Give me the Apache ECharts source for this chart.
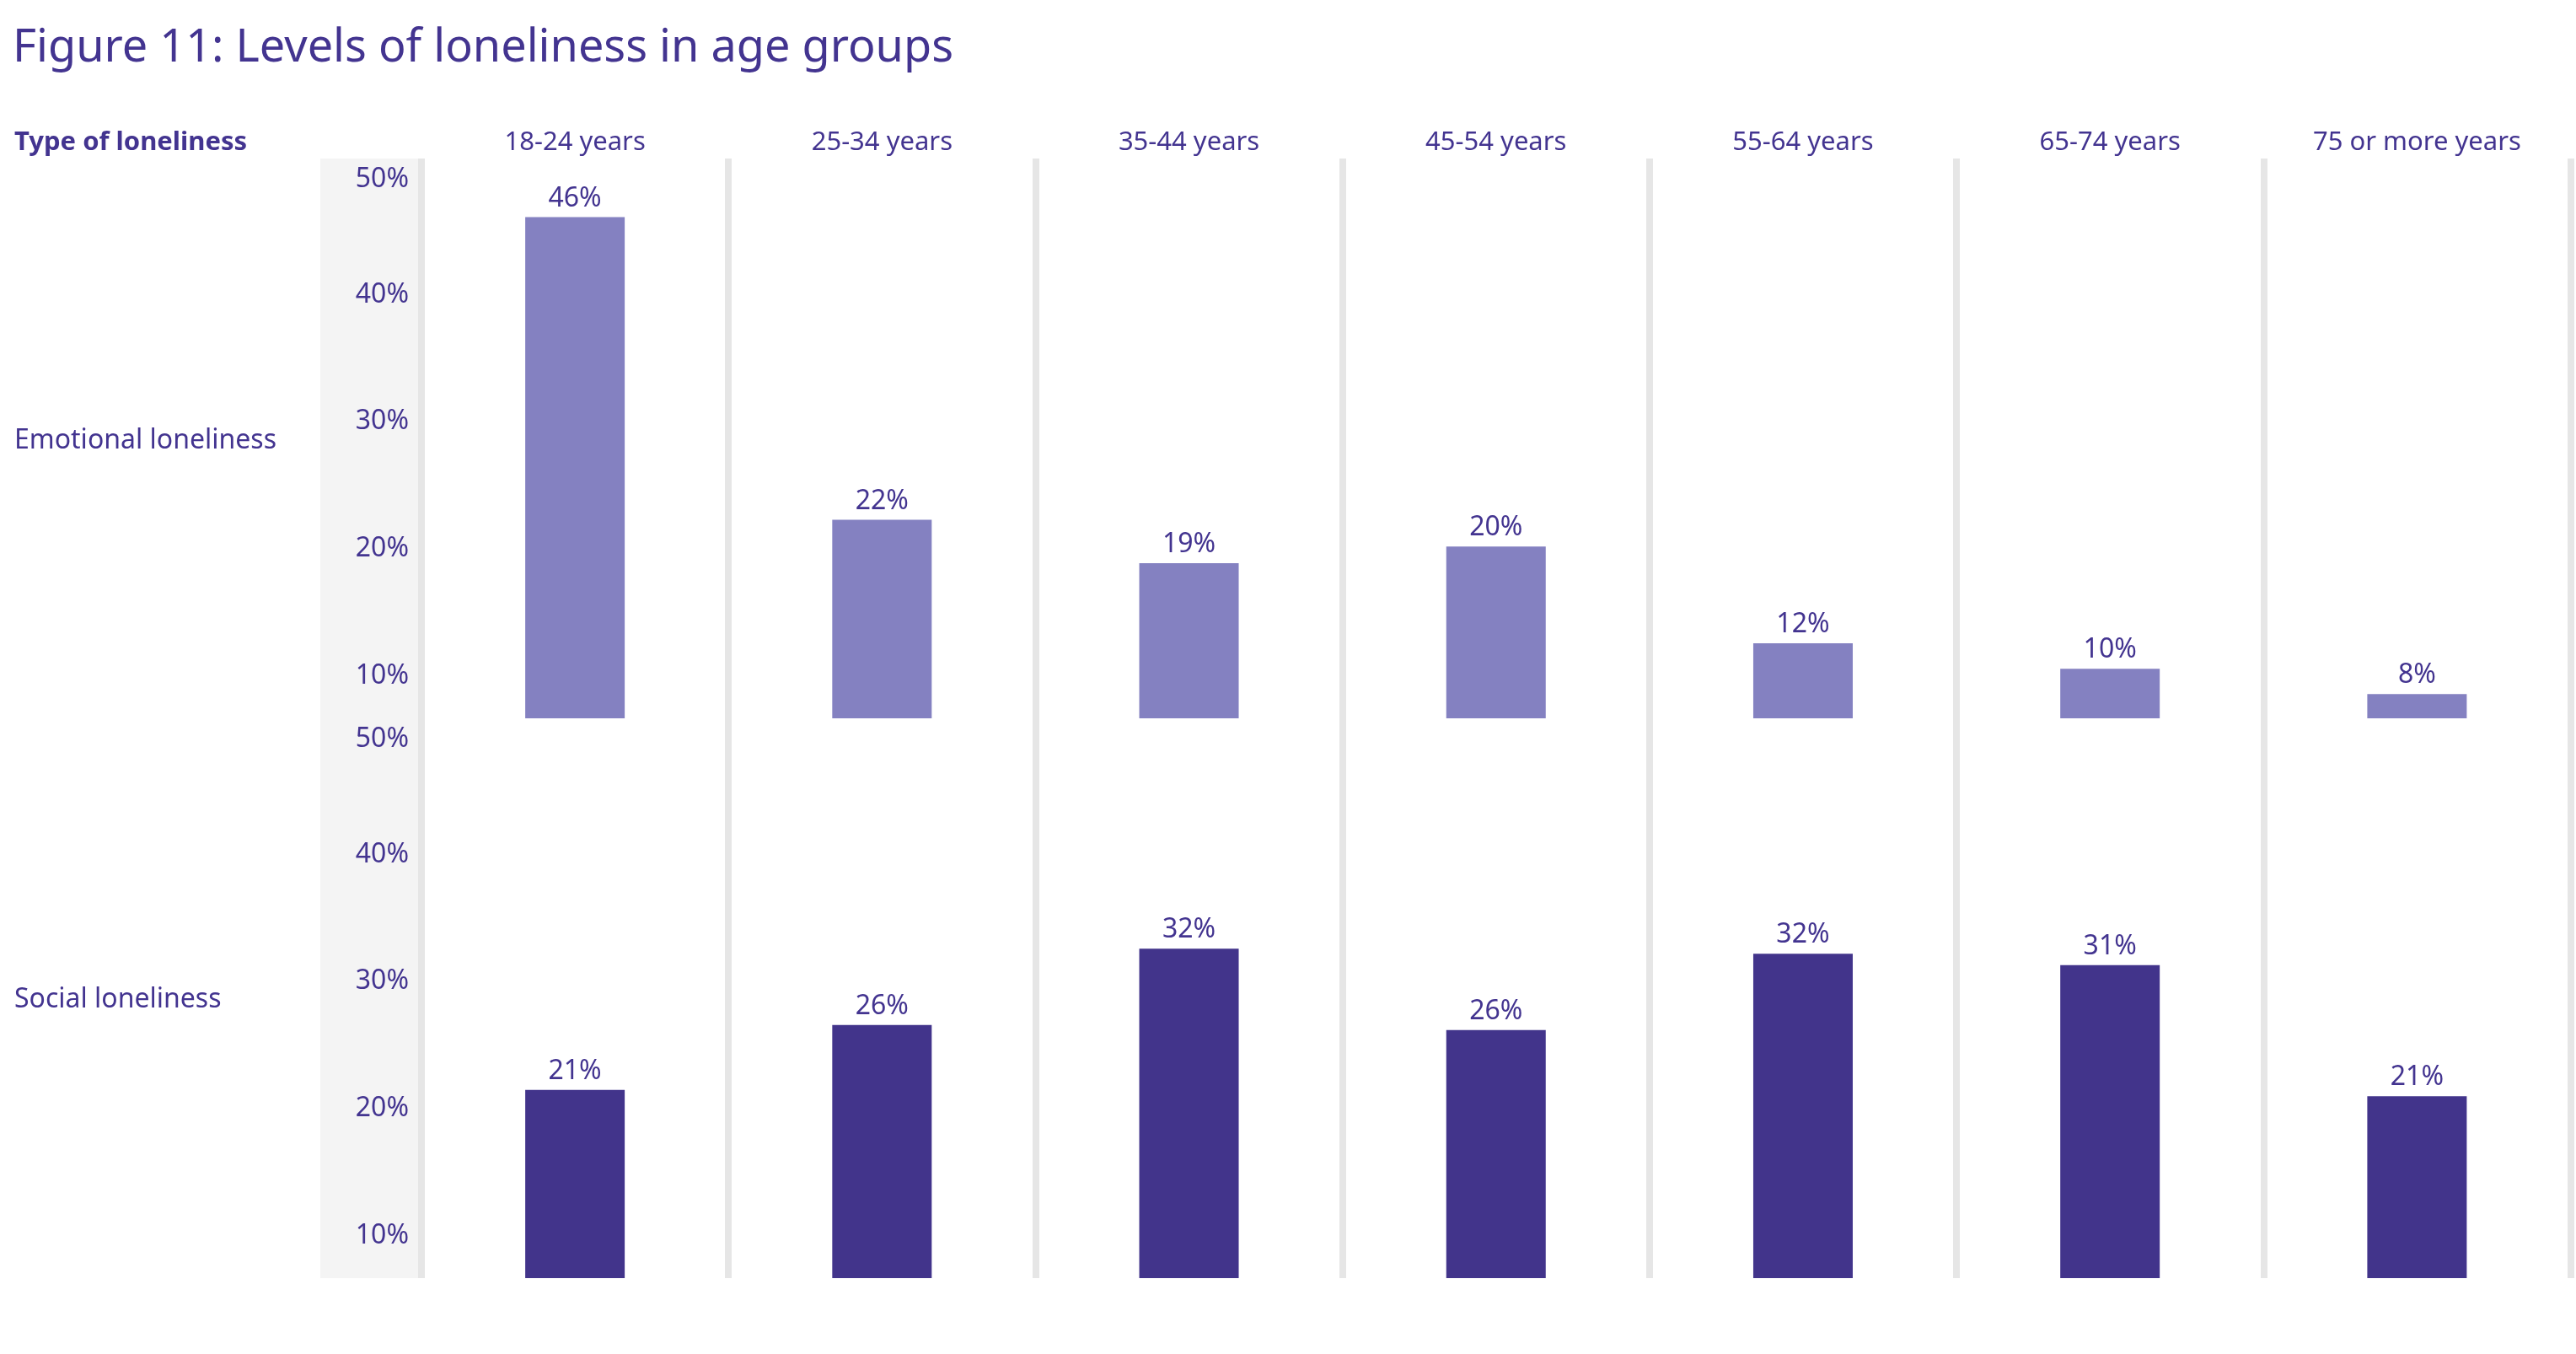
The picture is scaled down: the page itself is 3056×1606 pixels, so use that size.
<!DOCTYPE html>
<html>
<head>
<meta charset="utf-8">
<script src="https://cdn.jsdelivr.net/npm/echarts@6/dist/echarts.min.js"></script>
<style>
  html, body { margin: 0; padding: 0; background: #ffffff; }
  #chart { width: 3056px; height: 1606px; }
</style>
</head>
<body>
<div id="chart"></div>
<script>
// ---- data ----
const titleText = 'Figure 11: Levels of loneliness in age groups';
const rowHeader = 'Type of loneliness';
const ageGroups = ['18-24 years', '25-34 years', '35-44 years', '45-54 years', '55-64 years', '65-74 years', '75 or more years'];
const rowLabels = ['Emotional loneliness', 'Social loneliness'];
const emotional = [45.9, 22.1, 18.7, 20.0, 12.4, 10.4, 8.4];
const social = [21.3, 26.4, 32.4, 26.0, 32.0, 31.1, 20.8];
const tickValues = [10, 20, 30, 40, 50];

// ---- style ----
const FONT = '"Noto Sans", "DejaVu Sans", sans-serif';
const TEXT = '#433490';
const LIGHT = '#8481C1';
const DARK = '#42348B';
const DIVIDER = '#e6e6e6';
const PANEL = '#f4f4f4';
const AX_MIN = 6.5, AX_MAX = 50.5;

const chart = echarts.init(document.getElementById('chart'));

function yAxis(idx) {
  return {
    gridIndex: idx,
    type: 'value',
    min: AX_MIN,
    max: AX_MAX,
    axisLine: { show: false },
    axisTick: { show: false },
    splitLine: { show: false },
    axisLabel: {
      customValues: tickValues,
      margin: 15,
      fontFamily: FONT,
      fontSize: 32,
      color: TEXT,
      formatter: function (v) {
        if (Math.abs(v % 10) > 1e-6) return '';
        if (v === 50) return '{t|' + v + '%}';
        return '{n|' + v + '%}';
      },
      rich: {
        n: { fontFamily: FONT, fontSize: 32, color: TEXT, padding: [6, 0, 0, 0] },
        t: { fontFamily: FONT, fontSize: 32, color: TEXT, padding: [34, 0, 0, 0] }
      }
    }
  };
}

function xAxis(idx, showLabels) {
  return {
    gridIndex: idx,
    type: 'category',
    data: ageGroups,
    position: 'top',
    axisLine: { show: false },
    axisTick: { show: false },
    axisLabel: {
      show: showLabels,
      interval: 0,
      margin: 3,
      fontFamily: FONT,
      fontSize: 31,
      color: TEXT
    },
    splitLine: {
      show: true,
      interval: 0,
      lineStyle: { color: DIVIDER, width: 8 }
    }
  };
}

function barSeries(idx, values, color) {
  return {
    type: 'bar',
    xAxisIndex: idx,
    yAxisIndex: idx,
    data: values,
    barWidth: 118,
    clip: true,
    itemStyle: { color: color },
    label: {
      show: true,
      position: 'top',
      distance: 6,
      fontFamily: FONT,
      fontSize: 32,
      color: TEXT,
      formatter: function (p) { return Math.round(p.value) + '%'; }
    },
    emphasis: { disabled: true }
  };
}

const option = {
  backgroundColor: '#ffffff',
  animation: false,
  grid: [
    { left: 500, right: 6.5, top: 188, height: 664 },
    { left: 500, right: 6.5, top: 852, height: 664 }
  ],
  xAxis: [xAxis(0, true), xAxis(1, false)],
  yAxis: [yAxis(0), yAxis(1)],
  series: [barSeries(0, emotional, LIGHT), barSeries(1, social, DARK)],
  graphic: [
    { type: 'rect', z: -10, silent: true, shape: { x: 380, y: 188, width: 120, height: 1328 }, style: { fill: PANEL } },
    { type: 'text', x: 15, y: 58, silent: true, style: { text: titleText, fontFamily: FONT, fontSize: 54, fill: TEXT, align: 'left', verticalAlign: 'middle' } },
    { type: 'text', x: 17, y: 169, silent: true, style: { text: rowHeader, fontFamily: FONT, fontWeight: 'bold', fontSize: 31, fill: TEXT, align: 'left', verticalAlign: 'middle' } },
    { type: 'text', x: 17, y: 523, silent: true, style: { text: rowLabels[0], fontFamily: FONT, fontSize: 32, fill: TEXT, align: 'left', verticalAlign: 'middle' } },
    { type: 'text', x: 17, y: 1186, silent: true, style: { text: rowLabels[1], fontFamily: FONT, fontSize: 32, fill: TEXT, align: 'left', verticalAlign: 'middle' } }
  ]
};
chart.setOption(option);
</script>
</body>
</html>
